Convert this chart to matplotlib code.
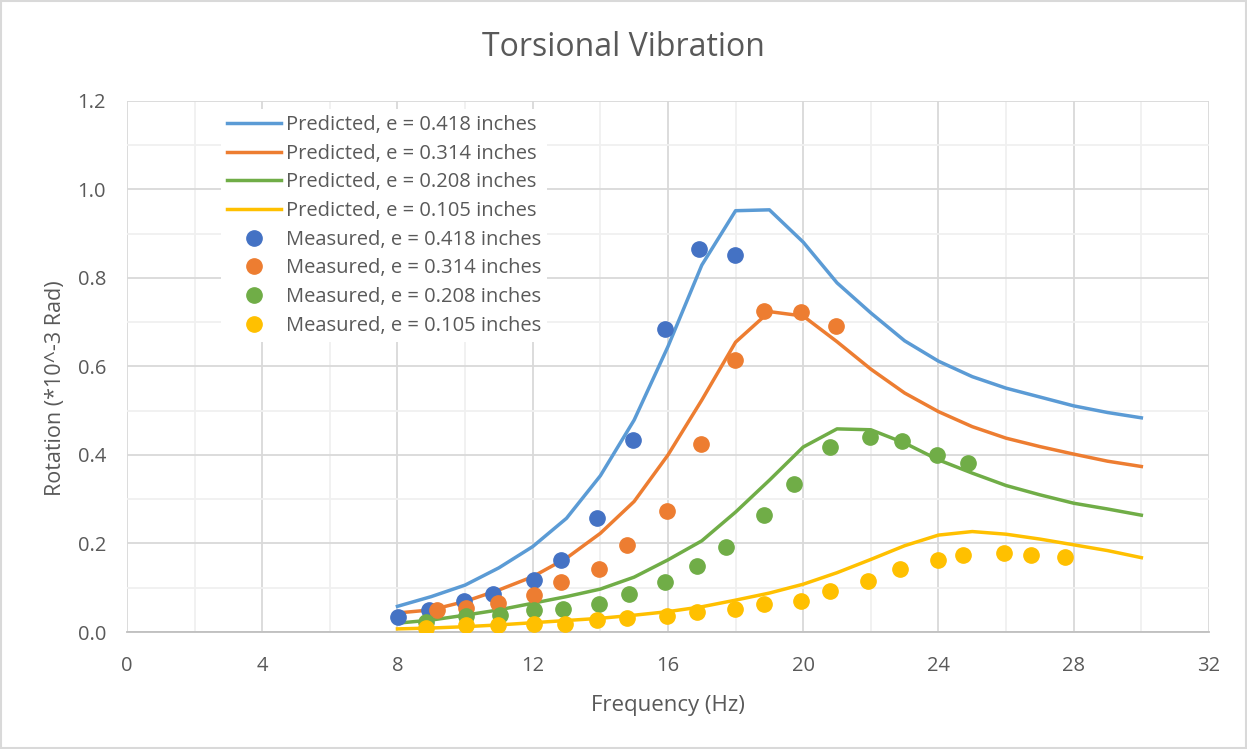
import matplotlib.pyplot as plt
from matplotlib.ticker import MultipleLocator

cblue = '#5B9BD5'
corange = '#ED7D31'
cgreen = '#70AD47'
cyellow = '#FFC000'
cblue_m = '#4472C4'

# predicted curves, 1 Hz steps from 8 to 30 Hz
freq_pred = list(range(8, 31))
pred_418 = [0.058, 0.080, 0.106, 0.145, 0.193, 0.257, 0.353, 0.479, 0.645, 0.829, 0.952, 0.954,
            0.881, 0.789, 0.721, 0.658, 0.612, 0.577, 0.551, 0.531, 0.511, 0.496, 0.484]
pred_314 = [0.043, 0.050, 0.069, 0.095, 0.125, 0.167, 0.223, 0.295, 0.400, 0.524, 0.655, 0.724,
            0.714, 0.656, 0.594, 0.540, 0.498, 0.464, 0.438, 0.419, 0.402, 0.386, 0.374]
pred_208 = [0.020, 0.027, 0.038, 0.050, 0.065, 0.080, 0.097, 0.124, 0.163, 0.206, 0.271, 0.343,
            0.418, 0.459, 0.457, 0.427, 0.389, 0.359, 0.331, 0.310, 0.291, 0.278, 0.264]
pred_105 = [0.007, 0.009, 0.012, 0.016, 0.021, 0.026, 0.031, 0.038, 0.046, 0.057, 0.072, 0.088,
            0.108, 0.134, 0.164, 0.195, 0.219, 0.227, 0.221, 0.210, 0.197, 0.184, 0.168]

# measured points
f_m418 = [8.02, 8.94, 9.97, 10.83, 12.04, 12.85, 13.91, 14.97, 15.91, 16.92, 17.99]
m_418 = [0.035, 0.050, 0.069, 0.087, 0.118, 0.163, 0.258, 0.434, 0.684, 0.865, 0.851]

f_m314 = [9.17, 10.03, 10.96, 12.04, 12.85, 13.97, 14.78, 15.98, 16.98, 17.99, 18.85, 19.92, 20.98]
m_314 = [0.050, 0.055, 0.066, 0.083, 0.112, 0.142, 0.197, 0.273, 0.425, 0.614, 0.726, 0.722, 0.692]

f_m208 = [8.83, 10.03, 11.03, 12.04, 12.9, 13.97, 14.84, 15.91, 16.85, 17.72, 18.85, 19.73,
          20.79, 21.98, 22.92, 23.95, 24.87]
m_208 = [0.023, 0.036, 0.038, 0.050, 0.051, 0.063, 0.087, 0.113, 0.150, 0.191, 0.264, 0.334,
         0.417, 0.441, 0.432, 0.400, 0.383]

f_m105 = [8.83, 10.03, 10.96, 12.04, 12.96, 13.91, 14.78, 15.98, 16.85, 17.99, 18.85, 19.92,
          20.79, 21.93, 22.86, 24.0, 24.74, 25.94, 26.75, 27.75]
m_105 = [0.010, 0.016, 0.016, 0.017, 0.018, 0.027, 0.032, 0.036, 0.046, 0.051, 0.063, 0.071,
         0.093, 0.115, 0.142, 0.163, 0.174, 0.179, 0.174, 0.170]

plt.rcParams['font.family'] = ['Open Sans', 'DejaVu Sans']
txt = '#595959'

if __name__ == "__main__":
    fig = plt.figure(figsize=(12.47, 7.49), dpi=100)
    ax = fig.add_axes([0.1018, 0.1562, 0.8677, 0.709])

    lw = 2.5
    ax.plot(freq_pred, pred_418, color=cblue, lw=lw, label='Predicted, e = 0.418 inches')
    ax.plot(freq_pred, pred_314, color=corange, lw=lw, label='Predicted, e = 0.314 inches')
    ax.plot(freq_pred, pred_208, color=cgreen, lw=lw, label='Predicted, e = 0.208 inches')
    ax.plot(freq_pred, pred_105, color=cyellow, lw=lw, label='Predicted, e = 0.105 inches')
    ax.plot(f_m418, m_418, 'o', color=cblue_m, ms=11, label='Measured, e = 0.418 inches', zorder=3)
    ax.plot(f_m314, m_314, 'o', color=corange, ms=11, label='Measured, e = 0.314 inches', zorder=3)
    ax.plot(f_m208, m_208, 'o', color=cgreen, ms=11, label='Measured, e = 0.208 inches', zorder=3)
    ax.plot(f_m105, m_105, 'o', color=cyellow, ms=11, label='Measured, e = 0.105 inches', zorder=3)

    ax.set_xlim(0, 32)
    ax.set_ylim(0, 1.2)
    ax.xaxis.set_major_locator(MultipleLocator(4))
    ax.xaxis.set_minor_locator(MultipleLocator(2))
    ax.yaxis.set_major_locator(MultipleLocator(0.2))
    ax.yaxis.set_minor_locator(MultipleLocator(0.1))
    ax.yaxis.set_major_formatter(plt.FormatStrFormatter('%.1f'))
    ax.grid(which='major', color='#D9D9D9', lw=1.3)
    ax.grid(which='minor', color='#F0F0F0', lw=1.3)
    ax.set_axisbelow(True)
    for s in ['top', 'right', 'left']:
        ax.spines[s].set_visible(False)
    ax.spines['bottom'].set_color('#BFBFBF')
    ax.spines['bottom'].set_linewidth(1.3)
    ax.tick_params(which='both', length=0, labelsize=14.5, colors=txt)
    ax.tick_params(axis='y', pad=15)
    ax.tick_params(axis='x', pad=17)

    fig.text(0.5, 1 - 48 / 749, 'Torsional Vibration', fontsize=23, color=txt,
             ha='center', va='center')
    ax.set_xlabel('Frequency (Hz)', fontsize=16, color=txt)
    ax.set_ylabel('Rotation (*10^-3 Rad)', fontsize=15.5, color=txt)
    ax.xaxis.set_label_coords(0.5, -0.118)
    ax.yaxis.set_label_coords(-0.056, 0.46)

    leg = ax.legend(loc='upper left', bbox_to_anchor=(0.087, 0.985), fontsize=14.5, frameon=True,
                    framealpha=1, edgecolor='none', handlelength=2.7, handletextpad=0.2,
                    labelspacing=0.43, borderpad=0.3, borderaxespad=0)
    for t in leg.get_texts():
        t.set_color(txt)

    fig.patches.append(plt.Rectangle((0.001, 0.001), 0.998, 0.998, transform=fig.transFigure,
                                     fill=False, edgecolor='#D9D9D9', lw=1.5))
    plt.savefig('out.png', dpi=100)
